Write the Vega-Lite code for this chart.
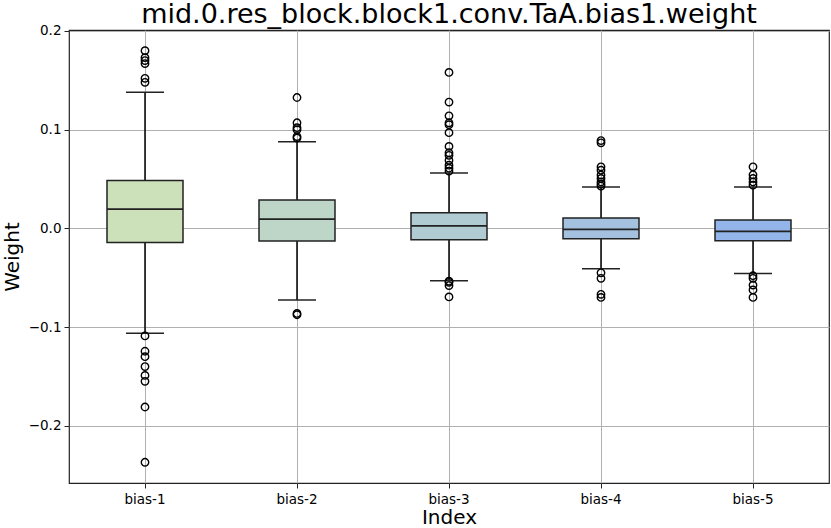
{
  "$schema": "https://vega.github.io/schema/vega-lite/v6.json",
  "width": 760,
  "height": 453,
  "autosize": "none",
  "padding": {"left": 69, "top": 30, "right": 2, "bottom": 45},
  "background": "white",
  "config": {
    "font": "DejaVu Sans",
    "view": {"stroke": "#222222", "strokeWidth": 1.2},
    "axis": {
      "gridColor": "#b0b0b0",
      "gridWidth": 1,
      "domain": false,
      "tickColor": "#222222",
      "tickSize": 5,
      "tickWidth": 1,
      "labelColor": "#000000",
      "labelFontSize": 13.5,
      "labelFont": "DejaVu Sans",
      "titleFont": "DejaVu Sans",
      "titleFontSize": 20,
      "titleFontWeight": "normal",
      "titleColor": "#000000"
    },
    "title": {"font": "DejaVu Sans", "fontSize": 27, "fontWeight": "normal", "color": "#000000"}
  },
  "title": {"text": "mid.0.res_block.block1.conv.TaA.bias1.weight", "offset": -5},
  "datasets": {
    "stats": [
      {"cat": "bias-1", "lo": -0.1063, "q1": -0.0142, "med": 0.0195, "q3": 0.0486, "hi": 0.138, "color": "#cce0b9"},
      {"cat": "bias-2", "lo": -0.0726, "q1": -0.0129, "med": 0.0094, "q3": 0.0287, "hi": 0.0877, "color": "#bdd6c8"},
      {"cat": "bias-3", "lo": -0.053, "q1": -0.0115, "med": 0.0026, "q3": 0.0158, "hi": 0.056, "color": "#b1cbd3"},
      {"cat": "bias-4", "lo": -0.041, "q1": -0.0105, "med": -0.001, "q3": 0.0104, "hi": 0.042, "color": "#a4c2e0"},
      {"cat": "bias-5", "lo": -0.0456, "q1": -0.0125, "med": -0.003, "q3": 0.0084, "hi": 0.0418, "color": "#93b5ea"}
    ],
    "outliers": [
      {"cat": "bias-1", "value": 0.180},
      {"cat": "bias-1", "value": 0.173},
      {"cat": "bias-1", "value": 0.170},
      {"cat": "bias-1", "value": 0.167},
      {"cat": "bias-1", "value": 0.152},
      {"cat": "bias-1", "value": 0.148},
      {"cat": "bias-1", "value": -0.109},
      {"cat": "bias-1", "value": -0.1245},
      {"cat": "bias-1", "value": -0.130},
      {"cat": "bias-1", "value": -0.140},
      {"cat": "bias-1", "value": -0.149},
      {"cat": "bias-1", "value": -0.155},
      {"cat": "bias-1", "value": -0.181},
      {"cat": "bias-1", "value": -0.237},
      {"cat": "bias-2", "value": 0.1326},
      {"cat": "bias-2", "value": 0.107},
      {"cat": "bias-2", "value": 0.102},
      {"cat": "bias-2", "value": 0.100},
      {"cat": "bias-2", "value": 0.093},
      {"cat": "bias-2", "value": 0.0915},
      {"cat": "bias-2", "value": -0.0862},
      {"cat": "bias-2", "value": -0.0875},
      {"cat": "bias-3", "value": 0.158},
      {"cat": "bias-3", "value": 0.128},
      {"cat": "bias-3", "value": 0.114},
      {"cat": "bias-3", "value": 0.107},
      {"cat": "bias-3", "value": 0.105},
      {"cat": "bias-3", "value": 0.097},
      {"cat": "bias-3", "value": 0.083},
      {"cat": "bias-3", "value": 0.0766},
      {"cat": "bias-3", "value": 0.074},
      {"cat": "bias-3", "value": 0.069},
      {"cat": "bias-3", "value": 0.064},
      {"cat": "bias-3", "value": 0.061},
      {"cat": "bias-3", "value": 0.058},
      {"cat": "bias-3", "value": -0.0535},
      {"cat": "bias-3", "value": -0.0547},
      {"cat": "bias-3", "value": -0.058},
      {"cat": "bias-3", "value": -0.0695},
      {"cat": "bias-4", "value": 0.089},
      {"cat": "bias-4", "value": 0.0867},
      {"cat": "bias-4", "value": 0.0624},
      {"cat": "bias-4", "value": 0.059},
      {"cat": "bias-4", "value": 0.054},
      {"cat": "bias-4", "value": 0.0506},
      {"cat": "bias-4", "value": 0.047},
      {"cat": "bias-4", "value": 0.0448},
      {"cat": "bias-4", "value": 0.0428},
      {"cat": "bias-4", "value": -0.045},
      {"cat": "bias-4", "value": -0.0506},
      {"cat": "bias-4", "value": -0.0668},
      {"cat": "bias-4", "value": -0.070},
      {"cat": "bias-5", "value": 0.0624},
      {"cat": "bias-5", "value": 0.0543},
      {"cat": "bias-5", "value": 0.0506},
      {"cat": "bias-5", "value": 0.047},
      {"cat": "bias-5", "value": 0.0438},
      {"cat": "bias-5", "value": -0.048},
      {"cat": "bias-5", "value": -0.0506},
      {"cat": "bias-5", "value": -0.0574},
      {"cat": "bias-5", "value": -0.0624},
      {"cat": "bias-5", "value": -0.070}
    ]
  },
  "encoding": {
    "x": {
      "field": "cat",
      "type": "nominal",
      "sort": ["bias-1", "bias-2", "bias-3", "bias-4", "bias-5"],
      "scale": {"type": "band", "paddingInner": 0, "paddingOuter": 0},
      "axis": {"title": "Index", "labelAngle": 0, "bandPosition": 0.5, "grid": true, "labelPadding": 4, "titlePadding": 2}
    }
  },
  "layer": [
    {
      "data": {"name": "stats"},
      "mark": {"type": "rule", "color": "#000000", "strokeWidth": 1.5},
      "encoding": {
        "y": {
          "field": "lo",
          "type": "quantitative",
          "scale": {"domain": [-0.258, 0.201], "nice": false, "zero": false},
          "axis": {"title": "Weight", "values": [-0.2, -0.1, 0, 0.1, 0.2], "format": ".1f", "grid": true, "titlePadding": 6, "labelPadding": 3}
        },
        "y2": {"field": "q1"}
      }
    },
    {
      "data": {"name": "stats"},
      "mark": {"type": "rule", "color": "#000000", "strokeWidth": 1.5},
      "encoding": {
        "y": {"field": "q3", "type": "quantitative"},
        "y2": {"field": "hi"}
      }
    },
    {
      "data": {"name": "stats"},
      "mark": {"type": "tick", "color": "#222222", "size": 38, "thickness": 1.5, "opacity": 1},
      "encoding": {"y": {"field": "lo", "type": "quantitative"}}
    },
    {
      "data": {"name": "stats"},
      "mark": {"type": "tick", "color": "#222222", "size": 38, "thickness": 1.5, "opacity": 1},
      "encoding": {"y": {"field": "hi", "type": "quantitative"}}
    },
    {
      "data": {"name": "stats"},
      "mark": {"type": "bar", "width": {"band": 0.5}, "stroke": "#222222", "strokeWidth": 1.5, "opacity": 1},
      "encoding": {
        "y": {"field": "q1", "type": "quantitative"},
        "y2": {"field": "q3"},
        "fill": {"field": "color", "type": "nominal", "scale": null, "legend": null}
      }
    },
    {
      "data": {"name": "stats"},
      "mark": {"type": "tick", "color": "#222222", "size": 76, "thickness": 1.8, "opacity": 1},
      "encoding": {"y": {"field": "med", "type": "quantitative"}}
    },
    {
      "data": {"name": "outliers"},
      "mark": {"type": "point", "shape": "circle", "filled": false, "stroke": "#000000", "strokeWidth": 1.4, "size": 55, "opacity": 1},
      "encoding": {"y": {"field": "value", "type": "quantitative"}}
    }
  ]
}
